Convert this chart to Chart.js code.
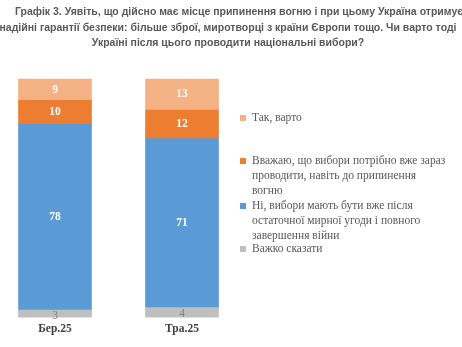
<!DOCTYPE html>
<html><head><meta charset="utf-8">
<script src="https://cdn.jsdelivr.net/npm/chart.js@4"></script>
<style>
html,body{margin:0;padding:0;background:#fff;}
#wrap{position:relative;width:462px;height:347px;overflow:hidden;}
#title{position:absolute;left:-100px;width:656px;top:4px;text-align:center;font:bold 10.5px "Liberation Sans",Arial,sans-serif;color:#595959;line-height:15.5px;white-space:nowrap;}
#title div:first-child{text-indent:22px;}
#legend{position:absolute;left:240px;top:0;width:222px;font:11.5px "Liberation Serif","Times New Roman",serif;color:#595959;line-height:15px;}
.li{position:absolute;left:0;padding-left:12px;width:195px;}
.mk{position:absolute;left:0;top:5px;width:6px;height:6px;}
canvas{position:absolute;left:0;top:0;}
</style></head><body>
<div id="wrap">
<canvas id="c" width="462" height="347"></canvas>
<div id="title"></div>
<div id="legend"></div>
</div>
<script>
const titleLines = [
  "Графік 3. Уявіть, що дійсно має місце припинення вогню і при цьому Україна отримує",
  "надійні гарантії безпеки: більше зброї, миротворці з країни Європи тощо. Чи варто тоді",
  "Україні після цього проводити національні вибори?"
];
const categories = ["Бер.25", "Тра.25"];
const seriesNames = [
  "Важко сказати",
  "Ні, вибори мають бути вже після остаточної мирної угоди і повного завершення війни",
  "Вважаю, що вибори потрібно вже зараз проводити, навіть до припинення вогню",
  "Так, варто"
];
const hardToSay = [3, 4];
const noAfterPeace = [78, 71];
const nowEvenBefore = [10, 12];
const yesWorth = [9, 13];

const colors = ["#BFBFBF", "#5B9BD5", "#ED7D31", "#F4B183"];
const labelColors = ["#7F7F7F", "#FFFFFF", "#FFFFFF", "#FFFFFF"];
const seriesData = [hardToSay, noAfterPeace, nowEvenBefore, yesWorth];

document.getElementById('title').innerHTML = titleLines.map(s => '<div>' + s + '</div>').join('');

const legendTops = [110, 153, 198, 241];
const legendOrder = [3, 2, 1, 0];
const lg = document.getElementById('legend');
legendOrder.forEach((si, i) => {
  const d = document.createElement('div');
  d.className = 'li';
  d.style.top = legendTops[i] + 'px';
  d.innerHTML = '<span class="mk" style="background:' + colors[si] + '"></span>' + seriesNames[si];
  lg.appendChild(d);
});

const valueLabels = {
  id: 'valueLabels',
  afterDatasetsDraw(chart) {
    const ctx = chart.ctx;
    ctx.save();
    ctx.textAlign = 'center';
    ctx.textBaseline = 'middle';
    chart.data.datasets.forEach((ds, di) => {
      const meta = chart.getDatasetMeta(di);
      meta.data.forEach((el, i) => {
        const v = ds.data[i];
        const yc = (el.y + el.base) / 2;
        ctx.fillStyle = labelColors[di];
        ctx.font = (di === 0 ? '' : 'bold ') + '11.5px "Liberation Serif", "Times New Roman", serif';
        ctx.fillText(String(v), el.x, yc + (di === 0 ? 2 : 0));
      });
    });
    ctx.restore();
  }
};

new Chart(document.getElementById('c'), {
  type: 'bar',
  data: {
    labels: categories,
    datasets: seriesData.map((d, i) => ({
      label: seriesNames[i],
      data: d,
      backgroundColor: colors[i],
      borderWidth: 0,
      barThickness: 73,
      clip: false
    }))
  },
  options: {
    responsive: false,
    animation: false,
    events: [],
    layout: { padding: { left: 55, right: 280, top: 79, bottom: 6 } },
    plugins: { legend: { display: false }, tooltip: { enabled: false }, title: { display: false } },
    scales: {
      x: {
        stacked: true,
        offset: false,
        grid: { display: false, drawTicks: false },
        border: { display: false },
        ticks: { color: '#404040', font: { family: '"Liberation Serif", "Times New Roman", serif', size: 11.5, weight: 'bold' }, padding: 5 }
      },
      y: { stacked: true, display: false, min: 0, max: 100 }
    }
  },
  plugins: [valueLabels]
});
</script>
</body></html>
